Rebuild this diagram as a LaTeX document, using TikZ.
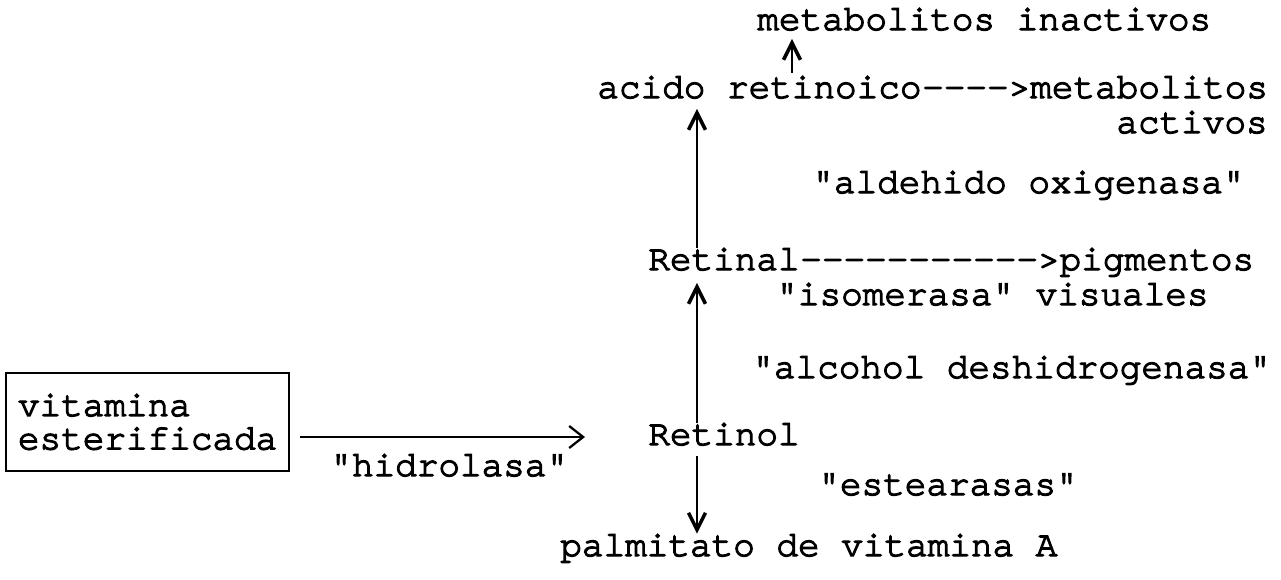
\documentclass[tikz,border=0pt]{standalone}
\usepackage{fontspec}
\setmonofont{TeX Gyre Cursor}[Ligatures=NoCommon, FakeBold=3.5]
\usetikzlibrary{arrows.meta}

\tikzset{
  texto/.style={font=\fontsize{20.5}{19}\selectfont\ttfamily, inner sep=0pt, anchor=base west},
  flecha/.style={line width=1.1pt, -{Straight Barb[length=3.4mm,width=3.4mm,line width=2pt]}},
  hidro/.style={line width=1.1pt, -{Straight Barb[length=2.8mm,width=4.4mm,line width=1.3pt]}}
}

\begin{document}
\begin{tikzpicture}[x=0.02cm, y=-0.02cm, >=latex]  % 1 个单位 = 1 像素
            \useasboundingbox (0,0) rectangle (1281,579);

            % 上面的结点
            \node[texto] (inactivos) at (757,30) {metabolitos inactivos};
            \node[texto] (acido) at (597,98) {acido retinoico};
            \node[texto, anchor=base west] (metab) at (acido.base east) {---->metabolitos};
            \node[texto, anchor=base east] (activos) at (1268,133) {activos};
            \node[texto] (oxigenasa) at (812,193) {"aldehido oxigenasa"};

            % 中间的结点
            \node[texto] (retinal) at (648,270) {Retinal};
            \node[texto, anchor=base west] (pigmentos) at (retinal.base east) {----------->pigmentos};
            \node[texto] (isomerasa) at (776,305) {"isomerasa" visuales};
            \node[texto] (deshidro) at (752,378) {"alcohol deshidrogenasa"};
            \node[texto] (retinol) at (648,445) {Retinol};

            % 左边的方框
            \node[texto, draw, line width=1.1pt, anchor=north west, inner xsep=0.24cm, inner ysep=0pt,
                  text width=5.18cm, minimum height=1.96cm, align=left] (vitamina) at (5,372)
                  {vitamina\\esterificada};
            \node[texto] (hidrolasa) at (330,476) {"hidrolasa"};

            % 下面的结点
            \node[texto] (estearasas) at (818,495) {"estearasas"};
            \node[texto] (palmitato) at (560,556) {palmitato de vitamina A};

            % 竖线的位置
            \coordinate (eje) at (697,0);
            \coordinate (ejeB) at (792,0);
            \coordinate (hfin) at (585,437);

            \draw[flecha, shorten <=0.06cm, shorten >=0.16cm] (acido.north -| ejeB) -- (inactivos.south -| ejeB);
            \draw[flecha, shorten >=0.2cm] (retinal.north -| eje) -- (acido.south -| eje);
            \draw[flecha, shorten >=0.24cm] (retinol.north -| eje) -- (retinal.south -| eje);
            \draw[flecha, shorten <=0.2cm] (retinol.south -| eje) -- (palmitato.north -| eje);
            \draw[hidro] ([xshift=0.2cm]vitamina.east |- hfin) -- (hfin);
        \end{tikzpicture}
\end{document}
